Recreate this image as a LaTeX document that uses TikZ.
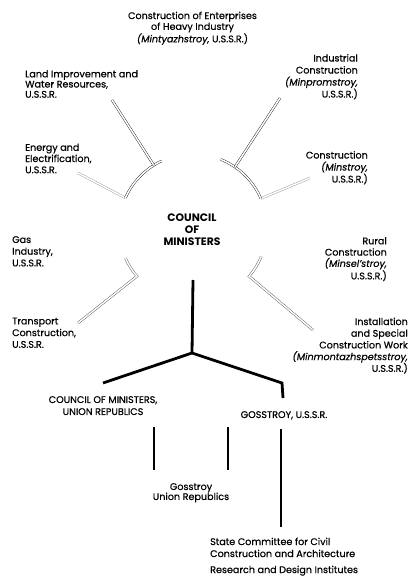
\documentclass[tikz,border=0pt]{standalone}
\usepackage{fontspec}
\setmainfont{Poppins}[UprightFeatures={FakeBold=0.5}, ItalicFeatures={FakeBold=0.5}]
\usetikzlibrary{calc}
\begin{document}
\begin{tikzpicture}[x=1pt,y=-1pt,
  lbl/.style={inner sep=0pt, font=\fontsize{9.6}{#1}\selectfont},
  lbl/.default=11.5,
  dbl/.style={draw=black!85, line width=0.45pt, double=white, double distance=1.5pt},
  faint/.style={draw=black!40, line width=0.45pt, double=white, double distance=1.5pt},
  thk/.style={line width=2.8pt, line join=miter, draw=black},
  thv/.style={line width=2.6pt, draw=black}]
\useasboundingbox (0,0) rectangle (410,577);
% text nodes
\node[lbl=9.7, anchor=north, align=center] (heavy) at (192.5,11.5)
  {Construction of Enterprises\\of Heavy Industry\\\textit{(Mintyazhstroy,} U.S.S.R.)};
\node[lbl=10.2, anchor=north west, align=left] (land) at (25,70)
  {Land Improvement and\\Water Resources,\\U.S.S.R.};
\node[lbl=12, anchor=north east, align=right] (ind) at (358,54)
  {Industrial\\Construction\\\textit{(Minpromstroy,}\\U.S.S.R.)};
\node[lbl=11.2, anchor=north west, align=left] (energy) at (25,143.5)
  {Energy and\\Electrification,\\U.S.S.R.};
\node[lbl=12, anchor=north east, align=right] (minstroy) at (368,151)
  {Construction\\\textit{(Minstroy,}\\U.S.S.R.)};
\node[inner sep=0pt, anchor=north, align=center, font=\fontsize{10.8}{12}\selectfont\bfseries] (council) at (192,213.5)
  {COUNCIL\\OF\\MINISTERS};
\node[lbl=11.7, anchor=north west, align=left] (gas) at (12,236)
  {Gas\\Industry,\\U.S.S.R.};
\node[lbl=11.3, anchor=north east, align=right] (rural) at (387,237)
  {Rural\\Construction\\\textit{(Minsel'stroy,}\\U.S.S.R.)};
\node[lbl=11.7, anchor=north west, align=left] (transport) at (12,317.5)
  {Transport\\Construction,\\U.S.S.R.};
\node[lbl=11.7, anchor=north east, align=right] (install) at (408,317.5)
  {Installation\\and Special\\Construction Work\\\textit{(Minmontazhspetsstroy,}\\U.S.S.R.)};
\node[lbl=12, anchor=north, align=center] (cmur) at (103,396)
  {COUNCIL OF MINISTERS,\\UNION REPUBLICS};
\node[lbl=12, anchor=north, align=center] (goss) at (284,411)
  {GOSSTROY, U.S.S.R.};
\node[lbl=10, anchor=north, align=center] (gur) at (191,483)
  {Gosstroy\\Union Republics};
\node[lbl=12, anchor=north west, align=left] (state) at (210,537.5)
  {State Committee for Civil\\Construction and Architecture\\[4pt]Research and Design Institutes};
% circle geometry
\coordinate (c) at (193,228);
\coordinate (landE) at (112,100);
\coordinate (energyE) at (78,173);
\coordinate (indE) at (280,98);
\coordinate (minstroyE) at (310,178);
\coordinate (transportE) at (78,323);
\coordinate (installE) at (313,330);
% upper left arc with energy and land
\draw[faint] (energyE) -- ($(c)+(-156:74)$);
\draw[dbl] ($(c)+(-156:74)$) arc[start angle=-156, end angle=-115, radius=74];
\draw[dbl] ($(c)+(-122:74)$) -- (landE);
% upper right arc with minstroy and minpromstroy
\draw[faint] (minstroyE) -- ($(c)+(-23.5:74)$);
\draw[dbl] ($(c)+(-23.5:74)$) arc[start angle=-23.5, end angle=-68, radius=74];
\draw[dbl] ($(c)+(-55.5:74)$) -- (indE);
% lower arcs
\draw[dbl, draw=black!65] ($(c)+(156:74)$) arc[start angle=156, end angle=139.3, radius=74] -- (transportE);
\draw[dbl, draw=black!65] ($(c)+(22.5:74)$) arc[start angle=22.5, end angle=40.7, radius=74] -- (installE);
% thick tree
\coordinate (ctop) at (193,280);
\coordinate (junc) at (192,353);
\coordinate (cmurT) at (103,383);
\coordinate (gossB) at (282,383);
\coordinate (gossT) at (283,398);
\draw[thk] (ctop) -- (junc);
\draw[thk] (cmurT) -- (junc) -- (gossB) -- (gossT);
% lower verticals
\coordinate (v1a) at (154,427); \coordinate (v1b) at (154,470);
\coordinate (v2a) at (228,427); \coordinate (v2b) at (228,470);
\coordinate (v3a) at (281,429); \coordinate (v3b) at (281,527);
\draw[thv] (v1a) -- (v1b);
\draw[thv] (v2a) -- (v2b);
\draw[thv] (v3a) -- (v3b);
\end{tikzpicture}
\end{document}
